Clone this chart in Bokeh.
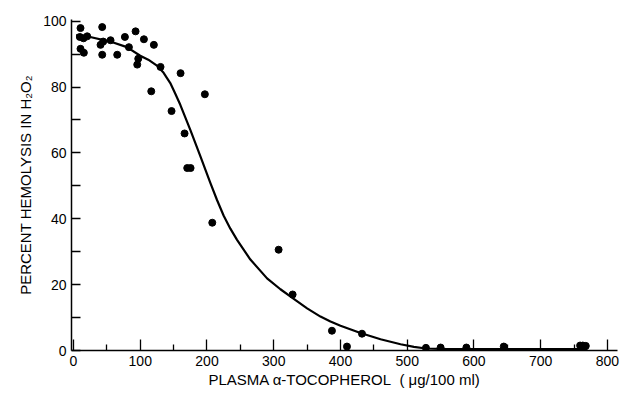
from bokeh.plotting import figure
from bokeh.models import FixedTicker, Range1d
from bokeh.embed import file_html
from bokeh.resources import INLINE

# Measured data points: plasma alpha-tocopherol (ug/100 ml) vs percent hemolysis
tocopherol = [10.5, 43, 9.5, 20.5, 15, 10.5, 15.5, 40.5, 44.5, 55.5, 43, 65.5,
              77, 83, 93, 105.5, 120.4, 97, 95.5, 130.4, 160.4, 116.5, 146.9,
              196.8, 166.4, 170.4, 175.4, 207.9, 307.3, 328.3, 387.2, 409.7,
              432.2, 528, 550, 588.6, 644.6, 759, 763, 767.5]
hemolysis = [97.9, 98.2, 95.2, 95.4, 94.8, 91.6, 90.4, 92.8, 93.8, 94.2, 89.8, 89.8,
             95.2, 92.1, 96.9, 94.5, 92.8, 88.6, 86.8, 86.1, 84.2, 78.7, 72.7,
             77.8, 65.9, 55.4, 55.4, 38.8, 30.6, 17.0, 6.0, 1.2,
             5.1, 0.8, 0.9, 0.9, 1.2, 1.5, 1.5, 1.4]

# Fitted curve
curve_x = [4, 25, 55, 80, 100, 112, 125, 135, 145, 152, 160, 175, 190, 205, 215,
           225, 235, 245, 265, 290, 310, 330, 350, 370, 385, 400, 430, 460, 490,
           510, 528, 560, 650, 770]
curve_y = [95.8, 95.2, 93.8, 92.1, 89.5, 88.3, 86.5, 84.3, 81.2, 78.2, 74.6, 67.0,
           59.0, 50.9, 45.7, 40.9, 37.0, 33.6, 27.6, 21.9, 18.6, 15.7, 12.8, 10.3,
           8.8, 7.5, 5.3, 3.4, 1.9, 1.1, 0.6, 0.4, 0.4, 0.4]

x_ticks = [0, 100, 200, 300, 400, 500, 600, 700, 800]
x_minor = [50, 150, 250, 350, 450, 550, 650, 750]
y_ticks = [0, 20, 40, 60, 80, 100]
y_minor = [10, 30, 50, 70, 90]

FONT = "Liberation Sans"

p = figure(width=620, height=393, output_backend="svg", toolbar_location=None,
           x_range=Range1d(-3, 815), y_range=Range1d(0, 100.5),
           min_border_left=71, min_border_right=3, min_border_top=19,
           min_border_bottom=43)
p.outline_line_color = None
p.xgrid.visible = False
p.ygrid.visible = False
p.background_fill_color = "white"
p.border_fill_color = "white"

p.line(curve_x, curve_y, line_color="black", line_width=2.2, line_join="round")
p.scatter(tocopherol, hemolysis, size=7, color="black")

for ax in (p.xaxis[0], p.yaxis[0]):
    ax.axis_line_color = "black"
    ax.axis_line_width = 1.5
    ax.major_tick_line_color = "black"
    ax.minor_tick_line_color = "black"
    ax.major_tick_line_width = 1.3
    ax.minor_tick_line_width = 1.3
    ax.major_tick_out = 0
    ax.minor_tick_out = 0
    ax.major_label_text_font = FONT
    ax.major_label_text_font_size = "14px"
    ax.major_label_text_color = "black"
    ax.axis_label_text_font = FONT
    ax.axis_label_text_font_size = "15px"
    ax.axis_label_text_font_style = "normal"
    ax.axis_label_text_color = "black"
    ax.major_label_standoff = 5

p.xaxis.axis_label_standoff = 2
p.yaxis.axis_label_standoff = 6

p.xaxis.ticker = FixedTicker(ticks=x_ticks, minor_ticks=x_minor)
p.yaxis.ticker = FixedTicker(ticks=y_ticks, minor_ticks=y_minor)
p.xaxis.major_tick_in = 11
p.xaxis.minor_tick_in = 6
p.yaxis.major_tick_in = 9
p.yaxis.minor_tick_in = 9

p.xaxis.axis_label = "PLASMA \u03b1-TOCOPHEROL\u00a0\u00a0(\u00a0\u03bcg/100 ml)"
p.yaxis.axis_label = "PERCENT HEMOLYSIS IN H\u2082O\u2082"

open("out.html", "w").write(file_html(p, INLINE))
